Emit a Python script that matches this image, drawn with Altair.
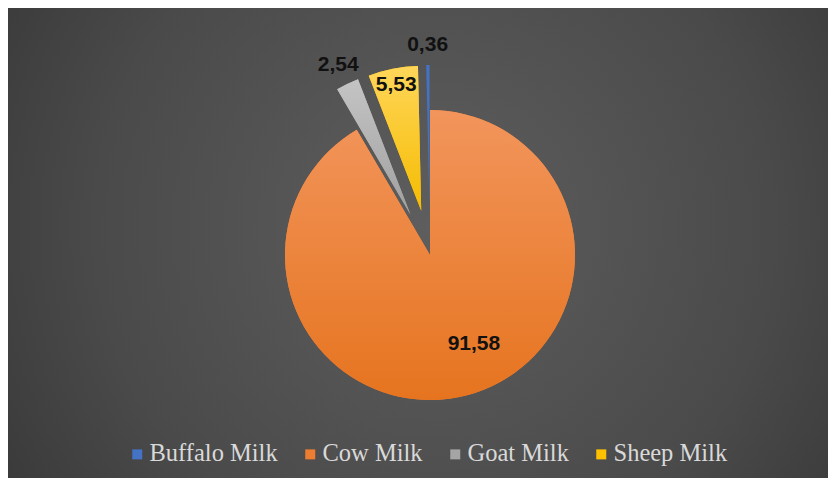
import altair as alt
import pandas as pd

# ---- data ----
categories = ["Buffalo Milk", "Cow Milk", "Goat Milk", "Sheep Milk"]
values = [0.36, 91.58, 2.54, 5.53]
# clockwise drawing order starting at 12 o'clock
slice_order = [4, 1, 2, 3]
colors = ["#4472C4", "#ED7D31", "#A5A5A5", "#FFC000"]

df = pd.DataFrame({"name": categories, "value": values, "ord": slice_order})

W, H = 820, 470
CX, CY, R, EXPLODE = 422, 247, 145, 45

# gradient overlays (style)
gradients = {
    "Cow Milk": ("#F2955C", "#E6741F"),
    "Goat Milk": ("#C4C4C4", "#A0A0A0"),
    "Sheep Milk": ("#FFD65A", "#F5BC00"),
}

base = alt.Chart(df).transform_window(
    cum="sum(value)", sort=[alt.SortField("ord")], frame=[None, 0]
).transform_joinaggregate(
    total="sum(value)"
).transform_calculate(
    a0="2*PI*(datum.cum - datum.value)/datum.total",
    a1="2*PI*datum.cum/datum.total",
).transform_calculate(
    mid="(datum.a0 + datum.a1)/2",
    ex=f"datum.name == 'Cow Milk' ? 0 : {EXPLODE}",
).transform_calculate(
    cx=f"{CX} + datum.ex*sin(datum.mid)",
    cy=f"{CY} - datum.ex*cos(datum.mid)",
    lr="datum.name == 'Cow Milk' ? 99 : datum.name == 'Goat Milk' ? 166 : datum.name == 'Sheep Milk' ? 128 : 165",
    la="datum.name == 'Cow Milk' ? datum.mid - 0.195 : datum.mid",
    label="replace(format(datum.value, '.2f'), '.', ',')",
).transform_calculate(
    lx="datum.cx + datum.lr*sin(datum.la)",
    ly="datum.cy - datum.lr*cos(datum.la)",
)

pos = dict(
    x=alt.X("cx:Q", scale=None, axis=None),
    y=alt.Y("cy:Q", scale=None, axis=None),
    theta=alt.Theta("a0:Q", scale=None),
    theta2=alt.Theta2("a1:Q"),
)

bg = alt.Chart(df).mark_rect(
    color=alt.RadialGradient(
        gradient="radial",
        stops=[
            alt.GradientStop(color="#5E5E5E", offset=0),
            alt.GradientStop(color="#4A4A4A", offset=0.55),
            alt.GradientStop(color="#2E2F2F", offset=1),
        ],
        x1=0.52, y1=0.48, r1=0, x2=0.52, y2=0.48, r2=0.75,
    )
).encode(x=alt.value(0), x2=alt.value(W), y=alt.value(0), y2=alt.value(H))

arcs = base.mark_arc(radius=R).encode(
    **pos,
    color=alt.Color(
        "name:N",
        scale=alt.Scale(domain=categories, range=colors),
        legend=alt.Legend(
            title=None, orient="none", direction="horizontal",
            legendX=117, legendY=434, columns=4,
            symbolType="square", symbolSize=100, symbolStrokeWidth=0,
            labelFont="Liberation Serif", labelFontSize=24.5, labelColor="#D9D9D9",
            labelOffset=0, columnPadding=20, padding=0, labelLimit=300,
        ),
    ),
)

overlays = []
for name, (c_top, c_bot) in gradients.items():
    overlays.append(
        base.transform_filter(f"datum.name == '{name}'").mark_arc(
            radius=R,
            color=alt.LinearGradient(
                gradient="linear",
                stops=[alt.GradientStop(color=c_top, offset=0),
                       alt.GradientStop(color=c_bot, offset=1)],
                x1=0, y1=0, x2=0, y2=1,
            ),
        ).encode(**pos)
    )

labels = base.mark_text(
    font="Liberation Sans", fontWeight="bold", fontSize=21, color="#111111",
    align="center", baseline="middle",
).encode(
    x=alt.X("lx:Q", scale=None, axis=None),
    y=alt.Y("ly:Q", scale=None, axis=None),
    text="label:N",
)

chart = alt.layer(bg, arcs, *overlays, labels).properties(
    width=W, height=H, padding=0, autosize=alt.AutoSizeParams(type="none"),
).configure_view(stroke=None)

chart.save("out.html", embed_options={"renderer": "svg", "actions": False})
